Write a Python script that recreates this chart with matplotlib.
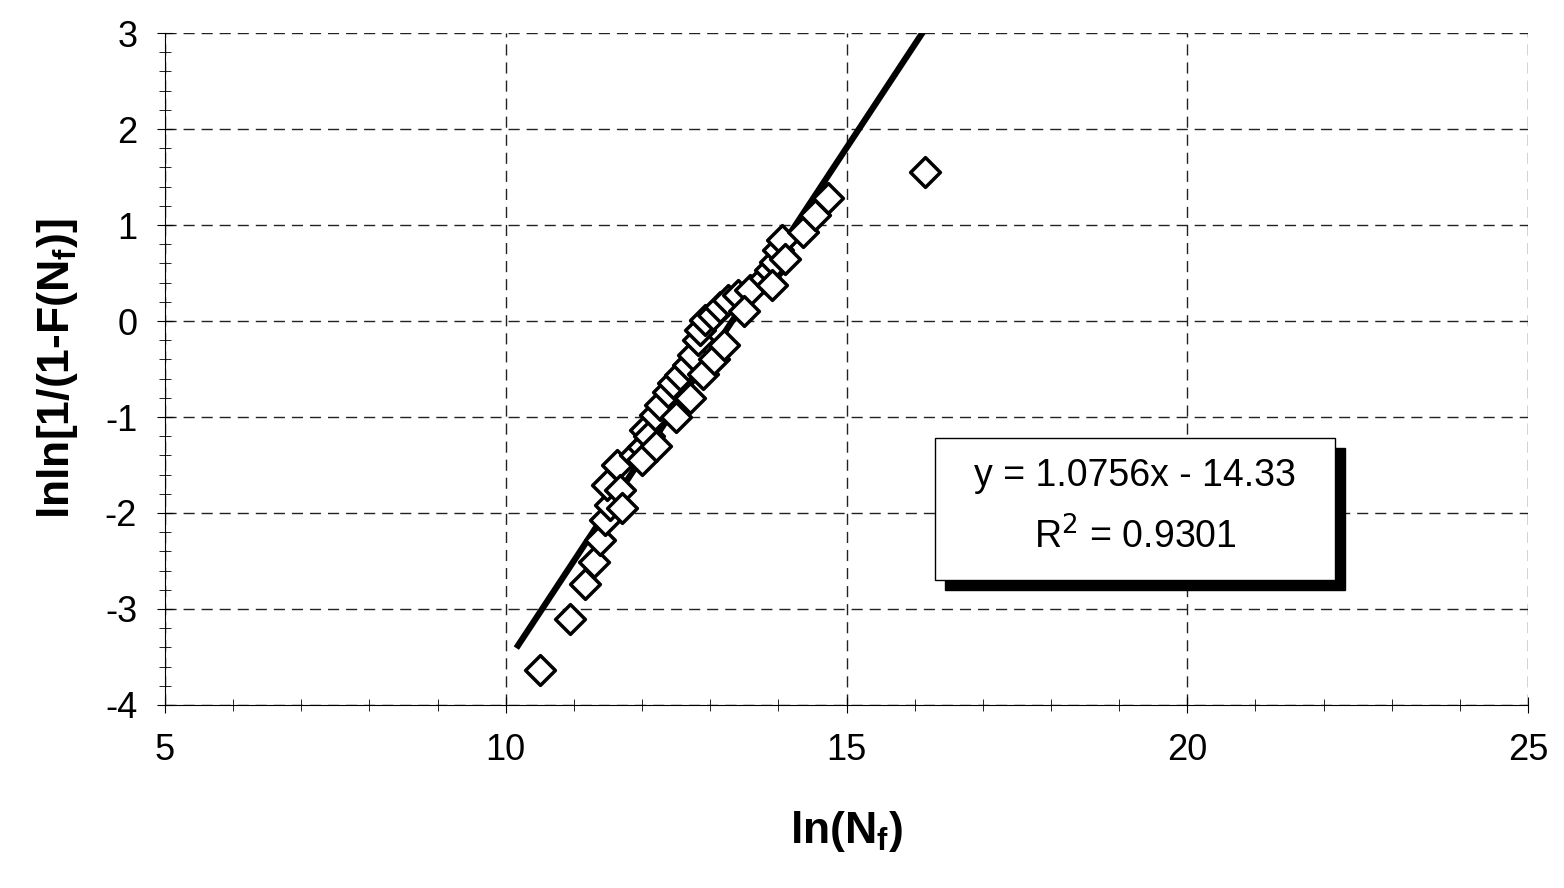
import matplotlib
matplotlib.use("Agg")
import matplotlib.pyplot as plt
import numpy as np
from matplotlib.patches import Rectangle

plt.rcParams['font.family'] = ['Liberation Sans', 'DejaVu Sans']
plt.rcParams['axes.unicode_minus'] = False

x_data = [10.50, 10.94, 11.16, 11.30, 11.38, 11.46, 11.53, 11.49, 11.63, 11.68,
          11.90, 12.01, 12.04, 12.10, 12.19, 12.26, 12.38, 12.45, 12.56, 12.67,
          12.75, 12.82, 12.85, 12.92, 13.04, 13.14, 13.26, 13.41, 13.58, 13.80,
          13.88, 13.95, 13.99, 14.05, 14.36, 14.54, 14.73, 16.15,
          11.70, 12.00, 12.20, 12.50, 12.70, 12.90, 13.05, 13.20, 13.50, 13.90, 14.10]
y_data = [-3.64, -3.10, -2.74, -2.51, -2.28, -2.07, -1.92, -1.71, -1.50, -1.76,
          -1.40, -1.31, -1.14, -1.20, -0.98, -0.875, -0.74, -0.65, -0.56, -0.46,
          -0.35, -0.20, -0.09, 0.01, 0.06, 0.15, 0.22, 0.27, 0.32, 0.45,
          0.53, 0.61, 0.74, 0.84, 0.93, 1.10, 1.28, 1.55,
          -1.95, -1.45, -1.30, -1.00, -0.80, -0.55, -0.40, -0.25, 0.10, 0.38, 0.65]
slope, intercept = 1.0756, -14.33
fit_x = [10.18, 16.11]

fig = plt.figure(figsize=(15.64, 8.88), dpi=100)
ax = fig.add_axes([0.1055, 0.2061, 0.8715, 0.7567])
ax.set_xlim(5, 25)
ax.set_ylim(-4, 3)
ax.set_xticks(np.arange(5, 26, 5))
ax.set_yticks(np.arange(-4, 4, 1))
ax.set_xticks(np.arange(5, 26, 1), minor=True)
ax.set_yticks(np.arange(-4, 3.01, 0.2), minor=True)
ax.grid(True, which='major', linestyle=(0, (8, 5)), color='#222222', linewidth=1)
ax.tick_params(which='major', direction='inout', length=12, labelsize=26, pad=14)
ax.tick_params(which='minor', direction='inout', length=8)
for s in ['top', 'right']:
    ax.spines[s].set_visible(False)

fx = np.array(fit_x)
ax.plot(fx, slope * fx + intercept, color='black', linewidth=4.5, zorder=3)
ax.scatter(x_data, y_data, marker='D', s=230, facecolors='white', edgecolors='black',
           linewidths=2.5, zorder=4)

ax.set_xlabel('ln(N$_\\mathregular{f}$)', fontsize=32, fontweight='bold', labelpad=30)
ax.set_ylabel('lnln[1/(1-F(N$_\\mathregular{f}$)]', fontsize=32, fontweight='bold', labelpad=18)

W, H = 1564, 888
bx0, by0, bx1, by1 = 935, 438, 1335, 580
fig.patches.append(Rectangle(((bx0 + 10) / W, 1 - (by1 + 10) / H), (bx1 - bx0) / W, (by1 - by0) / H,
                             transform=fig.transFigure, facecolor='black', edgecolor='black', zorder=5))
fig.patches.append(Rectangle((bx0 / W, 1 - by1 / H), (bx1 - bx0) / W, (by1 - by0) / H,
                             transform=fig.transFigure, facecolor='white', edgecolor='black',
                             linewidth=1, zorder=6))
cx = (bx0 + bx1) / 2 / W
fig.text(cx, 1 - 476 / H, 'y = 1.0756x - 14.33', ha='center', va='center', fontsize=27, zorder=7)
fig.text(cx, 1 - 537 / H, 'R$^2$ = 0.9301', ha='center', va='center', fontsize=27, zorder=7)

fig.savefig('out.png', dpi=100)
